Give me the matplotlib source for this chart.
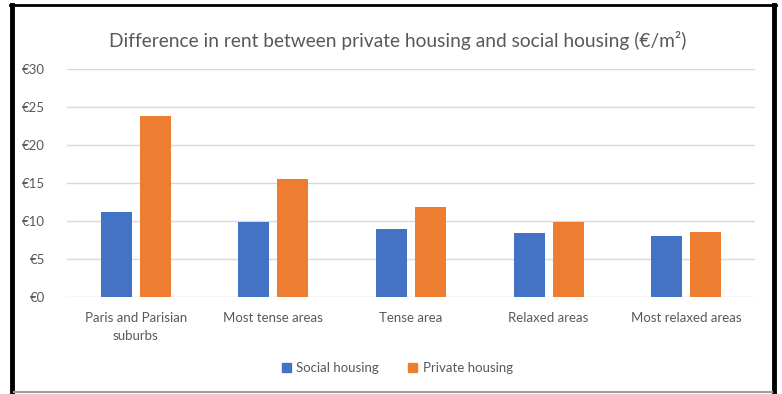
import numpy as np
import matplotlib.pyplot as plt
from matplotlib.lines import Line2D
from matplotlib.patches import Patch

# =========================
# Data
# =========================
categories = ["Paris and Parisian\nsuburbs", "Most tense areas", "Tense area",
              "Relaxed areas", "Most relaxed areas"]
social = [11.2, 9.9, 9.0, 8.4, 8.05]
private = [23.8, 15.5, 11.8, 9.9, 8.5]
yticks = [0, 5, 10, 15, 20, 25, 30]
ytick_labels = ["€0", "€5", "€10", "€15", "€20", "€25", "€30"]

blue = "#4472c4"
orange = "#ed7d31"
grey_text = "#595959"

plt.rcParams['font.family'] = ['Lato', 'DejaVu Sans']

# =========================
# Figure
# =========================
fig = plt.figure(figsize=(7.82, 3.94), dpi=100)
ax = fig.add_axes([67 / 782, 1 - 297 / 394, (755 - 67) / 782, (297 - 69) / 394])

x = np.arange(len(categories))
w = 0.225
off = 0.142
ax.bar(x - off, social, w, color=blue, zorder=3, label="Social housing")
ax.bar(x + off, private, w, color=orange, zorder=3, label="Private housing")

ax.set_xlim(-0.5, len(categories) - 0.5)
ax.set_ylim(0, 30)
ax.set_yticks(yticks)
ax.set_yticklabels(ytick_labels, color=grey_text, fontsize=9.5)
ax.set_xticks(x)
ax.set_xticklabels(categories, color=grey_text, fontsize=9.5, linespacing=1.6)
ax.tick_params(length=0)
ax.tick_params(axis='y', pad=16)
ax.tick_params(axis='x', pad=11)
ax.yaxis.grid(True, color="#d9d9d9", linewidth=1, zorder=0)
for s in ax.spines.values():
    s.set_visible(False)

fig.text(0.508, 1 - 40 / 394, "Difference in rent between private housing and social housing (€/m²)",
         ha='center', va='center', fontsize=13.8, color=grey_text)

handles = [Patch(color=blue), Patch(color=orange)]
fig.legend(handles, ["Social housing", "Private housing"], loc='center',
           bbox_to_anchor=(0.508, 1 - 368 / 394), ncol=2, frameon=False,
           fontsize=9.5, labelcolor=grey_text, handlelength=0.7, handleheight=0.7,
           handletextpad=0.4, columnspacing=2.2)

# frame around the chart
fig.add_artist(Line2D([12 / 782, 12 / 782], [0, 1 - 5 / 394], color='black', lw=3.5,
                      transform=fig.transFigure))
fig.add_artist(Line2D([774 / 782, 774 / 782], [0, 1 - 5 / 394], color='black', lw=3.5,
                      transform=fig.transFigure))
fig.add_artist(Line2D([10 / 782, 776 / 782], [1 - 5 / 394, 1 - 5 / 394], color='black', lw=2,
                      transform=fig.transFigure))
fig.add_artist(Line2D([14 / 782, 772 / 782], [1 - 392 / 394, 1 - 392 / 394], color='#a0a0a0', lw=1.5,
                      transform=fig.transFigure))

plt.savefig("out.png", dpi=100)
